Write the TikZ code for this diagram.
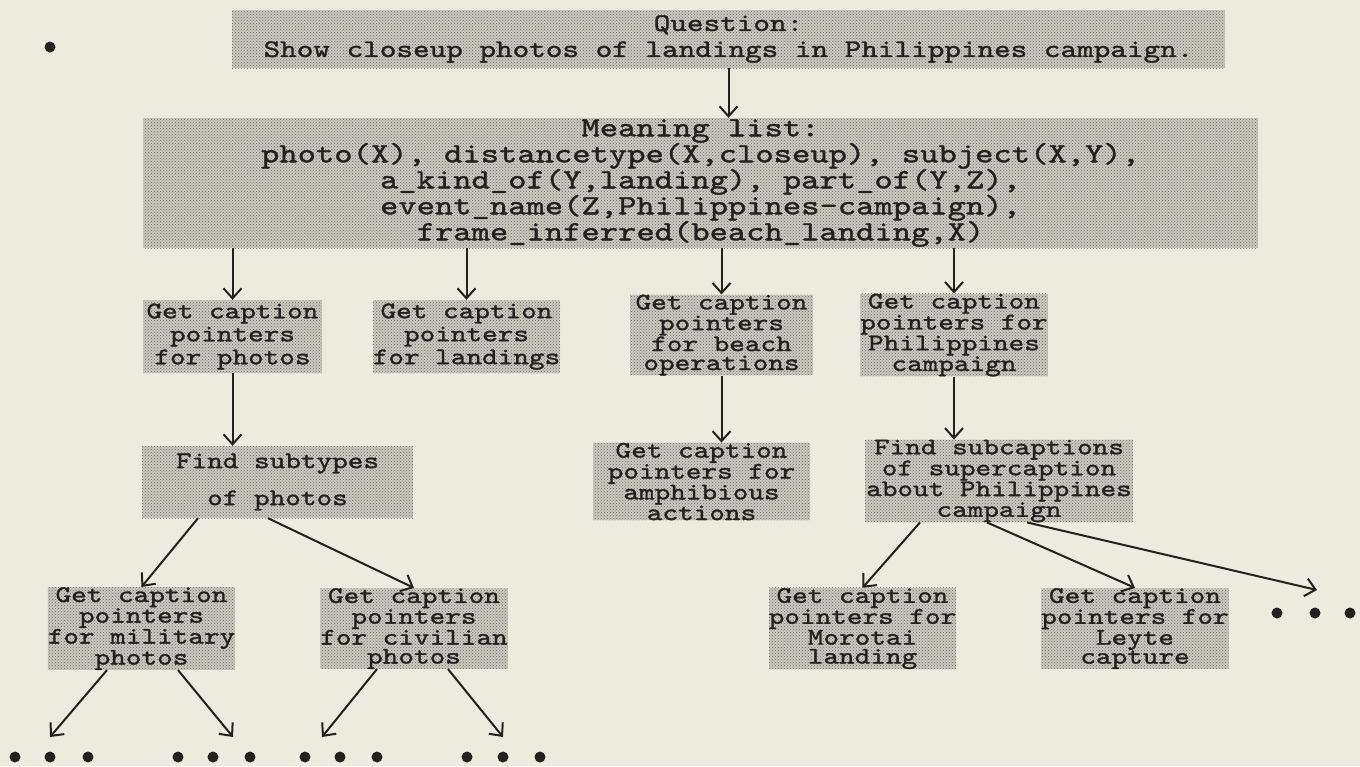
\documentclass[tikz,border=0pt]{standalone}
\usepackage{fontspec}
\usetikzlibrary{arrows.meta,patterns}
\newfontfamily\tw{lmmono10-regular.otf}[FakeStretch=1.25,FakeBold=1.3]
\definecolor{bg}{RGB}{237,235,222}
\definecolor{boxlight}{RGB}{202,200,191}
\definecolor{boxdark}{RGB}{110,108,102}
\definecolor{ink}{RGB}{35,32,32}
\newcommand\fq{\tw\fontsize{25.3}{26}\selectfont}
\newcommand\fm{\tw\fontsize{27.9}{26}\selectfont}
\newcommand\fb{\tw\fontsize{23.8}{23}\selectfont}
\newcommand\fc{\tw\fontsize{23.8}{19}\selectfont}
\newcommand\fd{\tw\fontsize{23.8}{37}\selectfont}
\begin{document}
\begin{tikzpicture}[x=1pt,y=-1pt,
  box/.style={preaction={fill=boxlight}, pattern=crosshatch dots, pattern color=boxdark,
              inner sep=0pt, align=center, text=ink},
  dotn/.style={circle, fill=ink, inner sep=0pt, minimum size=11pt},
  arr/.style={draw=ink, line width=2pt, -{Straight Barb[length=10pt,width=18pt,line width=2pt]}}]
\useasboundingbox[fill=bg] (0,0) rectangle (1360,766);
% top-left dot
\node[dotn] (tl) at (50,47) {};
% boxes
\node[box, minimum width=993pt, minimum height=58pt, font=\fq] (q) at (728.5,39)
  {Question:\\Show closeup photos of landings in Philippines campaign.};
\node[box, minimum width=1115pt, minimum height=130pt, font=\fm] (m) at (700.5,183)
  {Meaning list:\\photo(X), distancetype(X,closeup), subject(X,Y),\\a\_kind\_of(Y,landing), part\_of(Y,Z),\\event\_name(Z,Philippines-campaign),\\frame\_inferred(beach\_landing,X)};
\node[box, minimum width=179pt, minimum height=73pt, font=\fb] (b1) at (232.5,336.5)
  {Get caption\\pointers\\for photos};
\node[box, minimum width=175pt, minimum height=73pt, font=\fb] (b2) at (466.5,336.5)
  {Get caption\\pointers\\for landings};
\node[box, minimum width=183pt, minimum height=76pt, font=\fc] (b3) at (721.5,335)
  {Get caption\\pointers\\for beach\\operations};
\node[box, minimum width=182pt, minimum height=76pt, font=\fc] (b4) at (954,335)
  {Get caption\\pointers for\\Philippines\\campaign};
\node[box, minimum width=271pt, minimum height=72pt, font=\fd] (fs) at (277.5,482)
  {Find subtypes\\of photos};
\node[box, minimum width=217pt, minimum height=73pt, font=\fc] (am) at (701.5,481.5)
  {Get caption\\pointers for\\amphibious\\actions};
\node[box, minimum width=268pt, minimum height=72pt, font=\fc] (sc) at (999,481)
  {Find subcaptions\\of supercaption\\about Philippines\\campaign};
\node[box, minimum width=183pt, minimum height=73pt, font=\fc] (mil) at (141.5,628.5)
  {Get caption\\pointers\\for military\\photos};
\node[box, minimum width=182pt, minimum height=73pt, font=\fc] (civ) at (414,628.5)
  {Get caption\\pointers\\for civilian\\photos};
\node[box, minimum width=185pt, minimum height=73pt, font=\fc] (mor) at (862.5,628.5)
  {Get caption\\pointers for\\Morotai\\landing};
\node[box, minimum width=184pt, minimum height=73pt, font=\fc] (ley) at (1135,628.5)
  {Get caption\\pointers for\\Leyte\\capture};
% dots
\foreach \n/\x in {a1/15,a2/50,a3/88,b1/178,b2/213,b3/250,c1/305,c2/340,c3/377,d1/467,d2/503,d3/540}
  \node[dotn] (dot\n) at (\x,757) {};
\foreach \n/\x in {1/1277,2/1315,3/1350}
  \node[dotn] (rd\n) at (\x,613) {};
\coordinate (ta) at (50,737);
\coordinate (tb) at (233,737);
\coordinate (tc) at (322,737);
\coordinate (td) at (503,737);
\coordinate (tr) at (1317,590);
% connectors
\draw[arr] (q.south) -- (q.south |- m.north);
\draw[arr] (m.south -| b1.north) -- (b1.north);
\draw[arr] (m.south -| b2.north) -- (b2.north);
\draw[arr] (m.south -| b3.north) -- (b3.north);
\draw[arr] (m.south -| b4.north) -- (b4.north);
\draw[arr] (b1.south) -- (b1.south |- fs.north);
\draw[arr] (b3.south) -- (b3.south |- am.north);
\draw[arr] (b4.south) -- (b4.south |- sc.north);
\draw[arr] ([xshift=-79.5pt]fs.south) -- (mil.north);
\draw[arr] ([xshift=-9.5pt]fs.south) -- (civ.north);
\draw[arr] ([xshift=-34.5pt]mil.south) -- (ta);
\draw[arr] ([xshift=36.5pt]mil.south) -- (tb);
\draw[arr] ([xshift=-37pt]civ.south) -- (tc);
\draw[arr] ([xshift=34pt]civ.south) -- (td);
\draw[arr] ([xshift=-79pt]sc.south) -- (mor.north);
\draw[arr] ([xshift=-12pt]sc.south) -- (ley.north);
\draw[arr] ([xshift=28pt]sc.south) -- (tr);
\end{tikzpicture}
\end{document}
